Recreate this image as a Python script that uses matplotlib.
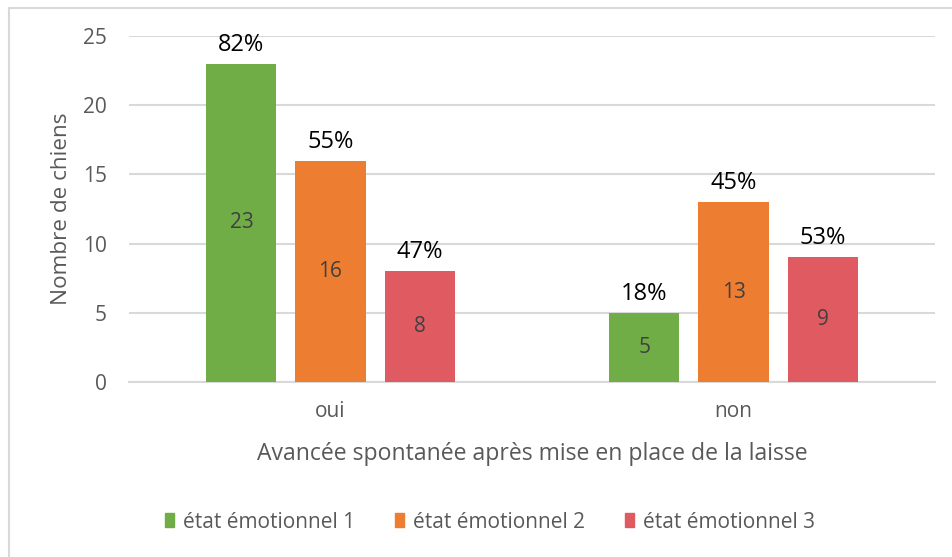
import matplotlib
matplotlib.use("Agg")
import matplotlib.pyplot as plt
import numpy as np
from matplotlib.patches import Rectangle
from matplotlib.lines import Line2D

categories = ["oui", "non"]
series = ["état émotionnel 1", "état émotionnel 2", "état émotionnel 3"]
counts = {
    "état émotionnel 1": [23, 5],
    "état émotionnel 2": [16, 13],
    "état émotionnel 3": [8, 9],
}
percents = {
    "état émotionnel 1": ["82%", "18%"],
    "état émotionnel 2": ["55%", "45%"],
    "état émotionnel 3": ["47%", "53%"],
}
yticks = [0, 5, 10, 15, 20, 25]
colors = ["#70AD47", "#ED7D31", "#E05A62"]

plt.rcParams['font.family'] = ['Open Sans', 'DejaVu Sans']
grey = "#595959"

fig = plt.figure(figsize=(9.52, 5.57), dpi=100)
ax = fig.add_axes([129/952, 175/557, 806/952, 346/557])

x = np.arange(len(categories))
width = 0.174
step = 0.221
for i, s in enumerate(series):
    pos = x + (i - 1) * step
    bars = ax.bar(pos, counts[s], width=width, color=colors[i], zorder=3)
    for b, v, p in zip(bars, counts[s], percents[s]):
        cx = b.get_x() + b.get_width() / 2
        ax.text(cx, v / 2, str(v), ha="center", va="center", fontsize=15,
                color="#404040", zorder=4)
        ax.annotate(p, (cx, v), xytext=(0, 5), textcoords="offset points",
                    ha="center", va="bottom", fontsize=17, color="black")

ax.set_xlim(-0.5, 1.5)
ax.set_ylim(0, 25)
ax.set_yticks(yticks)
ax.set_xticks(x)
ax.set_xticklabels(categories)
ax.yaxis.grid(True, color="#D9D9D9", linewidth=1.5, zorder=0)
ax.set_axisbelow(True)
for sp in ["top", "right", "left"]:
    ax.spines[sp].set_visible(False)
ax.spines["bottom"].set_color("#D9D9D9")
ax.spines["bottom"].set_linewidth(1.5)
ax.tick_params(axis="both", length=0, colors=grey, labelsize=15)
ax.tick_params(axis="y", pad=16)
ax.tick_params(axis="x", pad=14)
ax.set_ylabel("Nombre de chiens", fontsize=16.2, color=grey, labelpad=7.5)
ax.set_xlabel("Avancée spontanée après mise en place de la laisse",
              fontsize=16.6, color=grey, labelpad=14)

handles = [Rectangle((0, 0), 1, 1, color=c) for c in colors]
fig.legend(handles, series, loc="center", bbox_to_anchor=(490/952, 1 - 522/557),
           ncol=3, frameon=False, fontsize=15, labelcolor=grey,
           handlelength=0.45, handleheight=0.63, handletextpad=0.43,
           columnspacing=1.9)

# chart frame
fig.add_artist(Line2D([9/952, 9/952], [0, 1 - 8/557], transform=fig.transFigure,
                      color="#D9D9D9", linewidth=1.5))
fig.add_artist(Line2D([9/952, 1], [1 - 8/557, 1 - 8/557], transform=fig.transFigure,
                      color="#D9D9D9", linewidth=1.5))

fig.savefig("out.png", dpi=100)
